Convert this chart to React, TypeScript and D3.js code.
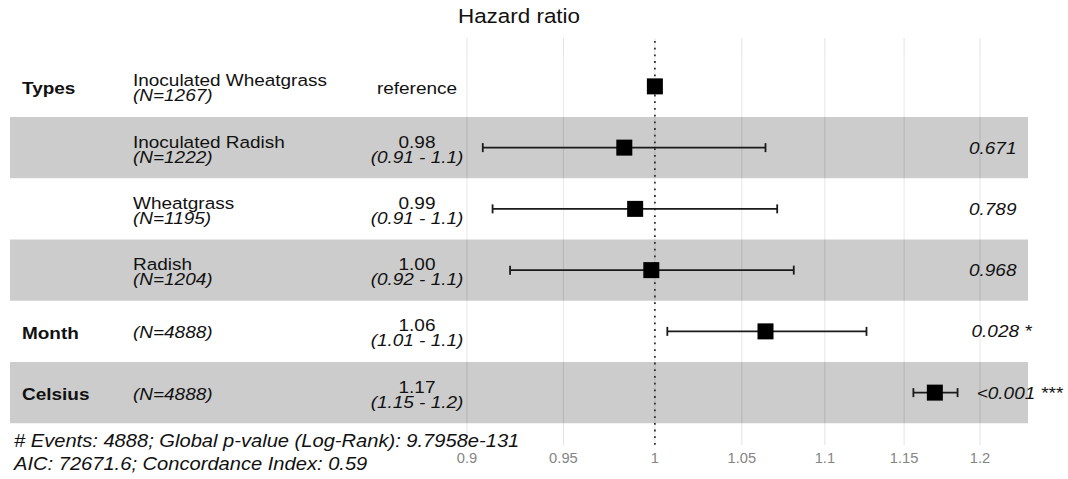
import React from 'react';
import * as d3 from 'd3';

// rows of the Cox model forest plot, top to bottom
const variables = ['Types', '', '', '', 'Month', 'Celsius'];
const levels = ['Inoculated Wheatgrass', 'Inoculated Radish', 'Wheatgrass', 'Radish', '', ''];
const counts = [1267, 1222, 1195, 1204, 4888, 4888];
const estimates = [1, 0.983, 0.989, 0.998, 1.064, 1.17];
const lowers = [null, 0.908, 0.913, 0.922, 1.007, 1.156];
const uppers = [null, 1.064, 1.071, 1.081, 1.126, 1.185];
const estLabels = ['reference', '0.98', '0.99', '1.00', '1.06', '1.17'];
const ciLabels = ['', '(0.91 - 1.1)', '(0.91 - 1.1)', '(0.92 - 1.1)', '(1.01 - 1.1)', '(1.15 - 1.2)'];
const pLabels = ['', '0.671', '0.789', '0.968', '0.028 *', '<0.001 ***'];
const xTicks = [0.9, 0.95, 1, 1.05, 1.1, 1.15, 1.2];
const footnotes = [
  '# Events: 4888; Global p-value (Log-Rank): 9.7958e-131',
  'AIC: 72671.6; Concordance Index: 0.59',
];

const W = 1068;
const H = 479;
const FONT = "'Liberation Sans', Arial, Helvetica, sans-serif";
const SX = 1.15; // glyphs in the picture are a bit wider than Arial

let ctx: CanvasRenderingContext2D | null = null;
function measure(text: string, size: number, style = 'normal', weight = 'normal') {
  if (!ctx) ctx = document.createElement('canvas').getContext('2d');
  if (!ctx) return text.length * size * 0.55;
  ctx.font = `${style} ${weight} ${size}px ${FONT}`;
  return ctx.measureText(text).width;
}

function Txt({ x, y, children, size = 16.5, anchor = 'start', italic = false, bold = false, fill = '#111', sx = SX }: any) {
  return (
    <text
      transform={`translate(${x},${y}) scale(${sx},1)`}
      fontSize={size}
      fontFamily={FONT}
      fontStyle={italic ? 'italic' : 'normal'}
      fontWeight={bold ? 'bold' : 'normal'}
      textAnchor={anchor}
      fill={fill}
    >
      {children}
    </text>
  );
}

export default function App() {
  const x = d3.scaleLog().domain([0.9, 1.2]).range([467, 980]);
  const rows = d3.scaleBand<number>().domain(d3.range(6)).range([55.75, 423.25]);
  const panel = { left: 10, right: 1028, top: 38, bottom: 445 };
  const box = 16;
  const cap = 4.5;
  const pX = 959.5;

  return (
    <svg width={W} height={H} style={{ position: 'absolute', left: 0, top: 0, background: '#fff' }}>
      <Txt x={(panel.left + panel.right) / 2} y={23} size={19.5} anchor="middle">Hazard ratio</Txt>

      {/* grid */}
      {xTicks.map((t) => (
        <line key={t} x1={x(t)} x2={x(t)} y1={panel.top} y2={panel.bottom} stroke="#e3e3e3" strokeWidth={1} />
      ))}

      {/* alternating row shading */}
      {d3.range(6).map((i) => (
        <rect
          key={i}
          x={panel.left}
          y={rows(i)}
          width={panel.right - panel.left}
          height={rows.bandwidth()}
          fill={i % 2 === 1 ? '#000' : '#fff'}
          fillOpacity={0.2}
        />
      ))}

      {/* reference line */}
      <line x1={x(1)} x2={x(1)} y1={panel.top + 3} y2={panel.bottom + 2} stroke="#333" strokeWidth={1.8}
        strokeDasharray="1.8 4.9" />

      {/* estimates with CIs */}
      {estimates.map((e, i) => {
        const cy = (rows(i) as number) + rows.bandwidth() / 2;
        const lo = lowers[i];
        const hi = uppers[i];
        return (
          <g key={i}>
            {lo != null && hi != null && (
              <g stroke="#1a1a1a" strokeWidth={1.8}>
                <line x1={x(lo)} x2={x(hi)} y1={cy} y2={cy} />
                <line x1={x(lo)} x2={x(lo)} y1={cy - cap} y2={cy + cap} />
                <line x1={x(hi)} x2={x(hi)} y1={cy - cap} y2={cy + cap} />
              </g>
            )}
            <rect x={x(e) - box / 2} y={cy - box / 2} width={box} height={box} fill="#000" />
          </g>
        );
      })}

      {/* table text */}
      {d3.range(6).map((i) => {
        const cy = (rows(i) as number) + rows.bandwidth() / 2;
        const n = `(N=${counts[i]})`;
        const pw = pLabels[i] ? measure(pLabels[i], 16.5, 'italic') * SX : 0;
        return (
          <g key={i}>
            {variables[i] && <Txt x={22} y={cy + 7.5} bold>{variables[i]}</Txt>}
            {levels[i] ? (
              <>
                <Txt x={133} y={cy}>{levels[i]}</Txt>
                <Txt x={133} y={cy + 15} italic>{n}</Txt>
              </>
            ) : (
              <Txt x={133} y={cy + 7} italic>{n}</Txt>
            )}
            {ciLabels[i] ? (
              <>
                <Txt x={417} y={cy} anchor="middle">{estLabels[i]}</Txt>
                <Txt x={417} y={cy + 15} anchor="middle" italic>{ciLabels[i]}</Txt>
              </>
            ) : (
              <Txt x={417} y={cy + 7.5} anchor="middle">{estLabels[i]}</Txt>
            )}
            {pLabels[i] && (
              <Txt x={pX + 0.2 * pw} y={cy + 6} italic>{pLabels[i]}</Txt>
            )}
          </g>
        );
      })}

      {/* x axis labels */}
      {xTicks.map((t) => (
        <Txt key={t} x={x(t)} y={462.5} size={14} anchor="middle" fill="#858585" sx={1.05}>
          {d3.format('~g')(t)}
        </Txt>
      ))}

      {/* footnotes */}
      {footnotes.map((f, i) => (
        <Txt key={i} x={14} y={446.7 + i * 23.3} size={17.5} italic>{f}</Txt>
      ))}
    </svg>
  );
}
